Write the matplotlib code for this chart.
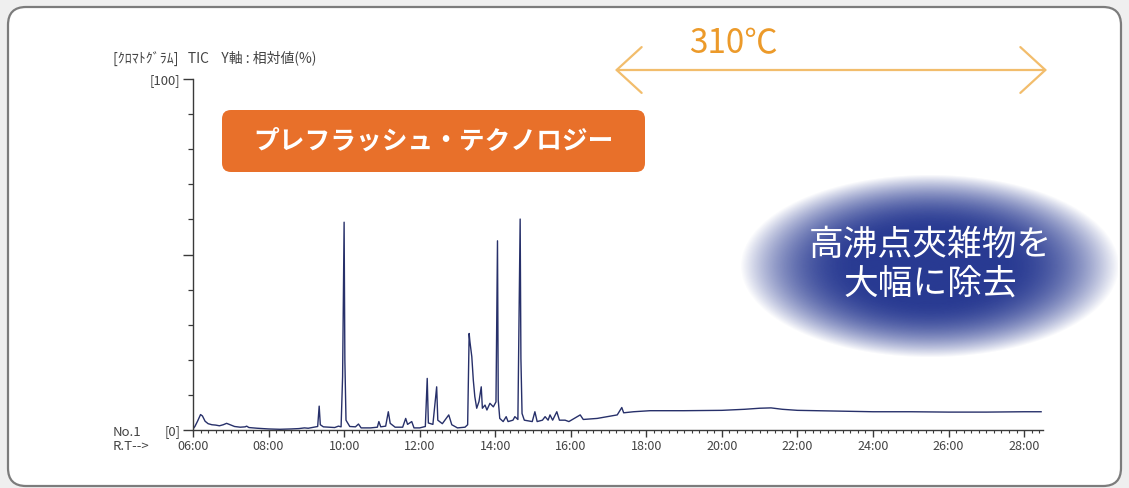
import numpy as np
import matplotlib
matplotlib.use('Agg')
import matplotlib.pyplot as plt
from matplotlib.patches import FancyBboxPatch, FancyArrowPatch, ArrowStyle
from matplotlib.ticker import MultipleLocator, FixedLocator

plt.rcParams['font.family'] = ['Noto Sans CJK JP', 'DejaVu Sans']

# ---------------- data ----------------
rt_min = [6.00, 6.05, 6.12, 6.20, 6.25, 6.32, 6.40, 6.50, 6.60, 6.70, 6.80, 6.89, 6.98,
          7.10, 7.25, 7.38, 7.42, 7.48, 7.70, 8.00, 8.30, 8.60, 8.80, 8.95, 9.05, 9.20,
          9.30, 9.34, 9.37, 9.45, 9.60, 9.75, 9.85, 9.92, 9.96, 10.00, 10.02, 10.05,
          10.15, 10.30, 10.38, 10.45, 10.70, 10.88, 10.92, 10.97, 11.10, 11.17, 11.22,
          11.35, 11.55, 11.63, 11.68, 11.79, 11.85, 12.00, 12.15, 12.20, 12.23, 12.35,
          12.45, 12.48, 12.60, 12.77, 12.85, 13.00, 13.20, 13.27, 13.31, 13.33, 13.38,
          13.42, 13.46, 13.51, 13.57, 13.63, 13.66, 13.73, 13.78, 13.86, 13.95, 14.02,
          14.06, 14.08, 14.12, 14.21, 14.29, 14.34, 14.47, 14.52, 14.60, 14.66, 14.68,
          14.71, 14.77, 14.98, 15.05, 15.11, 15.25, 15.32, 15.40, 15.45, 15.52, 15.63,
          15.70, 15.85, 15.95, 16.25, 16.33, 16.70, 16.97, 17.23, 17.35, 17.40, 17.66,
          18.10, 19.00, 20.00, 20.60, 21.00, 21.30, 21.60, 22.00, 23.00, 24.00, 25.00,
          26.00, 27.00, 28.00, 28.45]
tic_pct = [0.3, 1.0, 2.5, 4.4, 4.0, 2.5, 1.8, 1.5, 1.4, 1.2, 1.5, 1.9, 1.5,
           1.0, 0.8, 0.9, 1.1, 0.7, 0.5, 0.3, 0.2, 0.3, 0.4, 0.6, 0.5, 0.8,
           1.0, 6.8, 1.5, 0.9, 0.8, 0.7, 1.1, 0.9, 15.2, 59.2, 19.9, 2.8,
           1.0, 0.9, 1.7, 0.6, 0.6, 0.8, 2.4, 0.9, 1.1, 5.2, 1.9,
           0.8, 0.8, 3.3, 1.6, 2.4, 0.6, 0.6, 1.0, 14.7, 2.0, 1.6,
           12.3, 2.8, 1.8, 4.3, 1.5, 0.6, 0.8, 1.5, 27.5, 25.2, 20.9,
           14.2, 9.5, 6.2, 8.1, 12.3, 6.2, 7.1, 5.7, 7.6, 6.6, 8.0,
           53.9, 8.5, 3.3, 2.4, 3.8, 2.4, 2.8, 3.8, 3.0, 60.1, 20.4,
           4.7, 2.8, 2.4, 5.2, 2.4, 2.8, 3.8, 2.8, 4.3, 2.8, 5.2,
           2.8, 2.8, 2.4, 4.3, 3.0, 3.3, 3.8, 4.3, 6.4, 4.9, 5.2,
           5.5, 5.5, 5.6, 5.9, 6.2, 6.3, 5.9, 5.6, 5.4, 5.2, 5.2,
           5.1, 5.1, 5.2, 5.2]

x_ticks = [6, 8, 10, 12, 14, 16, 18, 20, 22, 24, 26, 28]
x_tick_labels = ['06:00', '08:00', '10:00', '12:00', '14:00', '16:00',
                 '18:00', '20:00', '22:00', '24:00', '26:00', '28:00']
y_ticks = [0, 50, 100]
y_tick_labels = ['[0]', '', '[100]']
title_text = '[ｸﾛﾏﾄｸﾞﾗﾑ]   TIC    Y軸 : 相対値(%)'
banner_text = 'プレフラッシュ・テクノロジー'
temp_text = '310℃'
callout_lines = ['高沸点夾雑物を', '大幅に除去']

# ---------------- figure ----------------
W, H = 1129, 488
fig = plt.figure(figsize=(W / 100, H / 100), dpi=100)
fig.patch.set_facecolor('#efefef')

# background frame
bg = fig.add_axes([0, 0, 1, 1], zorder=0)
bg.set_xlim(0, W)
bg.set_ylim(H, 0)
bg.axis('off')
bg.add_patch(FancyBboxPatch((8, 7), 1113, 479, boxstyle='round,pad=0,rounding_size=18',
                            fc='white', ec='#7c7c7c', lw=1.6))

# chromatogram axes
ax = fig.add_axes([193 / W, (H - 430) / H, (1043 - 193) / W, (430 - 79) / H], zorder=1)
ax.patch.set_alpha(0)
ax.plot(rt_min, tic_pct, color='#27306a', lw=1.0)
ax.set_xlim(6, 28.5)
ax.set_ylim(0, 100)
for s in ['top', 'right']:
    ax.spines[s].set_visible(False)
for s in ['left', 'bottom']:
    ax.spines[s].set_color('#3a3a3a')
    ax.spines[s].set_linewidth(1.0)

ax.xaxis.set_major_locator(FixedLocator(x_ticks))
ax.set_xticklabels(x_tick_labels)
ax.xaxis.set_minor_locator(MultipleLocator(0.2))
ax.set_yticks(y_ticks)
ax.set_yticklabels(y_tick_labels)
ax.yaxis.set_minor_locator(MultipleLocator(10))
ax.tick_params(axis='x', which='major', direction='out', length=5, width=1.0, pad=2,
               labelsize=9, color='#3a3a3a', labelcolor='#444444')
ax.tick_params(axis='x', which='minor', direction='out', length=2.5, width=0.8, color='#3a3a3a')
ax.tick_params(axis='y', which='major', direction='out', length=7, width=1.0, pad=2,
               labelsize=9.5, color='#3a3a3a', labelcolor='#444444')
ax.tick_params(axis='y', which='minor', direction='out', length=3.5, width=0.9, color='#3a3a3a')

# overlay
ov = fig.add_axes([0, 0, 1, 1], zorder=2)
ov.axis('off')

# gradient ellipse
gx = np.linspace(735, 1118, 384)
gy = np.linspace(170, 362, 193)
GX, GY = np.meshgrid(gx, gy)
r = np.sqrt(((GX - 930) / 190) ** 2 + ((GY - 266) / 92) ** 2)
t = np.clip((r - 0.38) / 0.62, 0, 1)
alpha = 1 - t ** 2
rgba = np.zeros(GX.shape + (4,))
rgba[..., 0] = 0x28 / 255
rgba[..., 1] = 0x3a / 255
rgba[..., 2] = 0x92 / 255
rgba[..., 3] = alpha
ov.imshow(rgba, extent=(735, 1118, 362, 170), origin='upper', aspect='auto',
          interpolation='bilinear', zorder=1)

ov.set_xlim(0, W)
ov.set_ylim(H, 0)

for i, line in enumerate(callout_lines):
    ov.text(930, 245 + 39 * i, line, ha='center', va='center', color='white',
            fontsize=25, zorder=3)

# orange banner
ov.add_patch(FancyBboxPatch((222, 110), 423, 62, boxstyle='round,pad=0,rounding_size=9',
                            fc='#e8702a', ec='none', zorder=2))
ov.text(434, 141, banner_text, ha='center', va='center', color='white',
        fontsize=18.5, fontweight='bold', zorder=3)

# temperature arrow
ov.add_patch(FancyArrowPatch((615, 70), (1047, 70),
                             arrowstyle=ArrowStyle('<->', head_length=18, head_width=16.5),
                             mutation_scale=1, shrinkA=0, shrinkB=0,
                             color='#f2bd6c', lw=1.6, zorder=2))
ov.text(733, 44, temp_text, ha='center', va='center', color='#ec9a2a', fontsize=24, zorder=3)

# small labels
ov.text(113, 58, title_text, ha='left', va='center', color='#444444', fontsize=10)
ov.text(113, 432, 'No.1', ha='left', va='center', color='#444444', fontsize=9.5)
ov.text(113, 447, 'R.T-->', ha='left', va='center', color='#444444', fontsize=9.5)

fig.savefig('out.png', dpi=100)
